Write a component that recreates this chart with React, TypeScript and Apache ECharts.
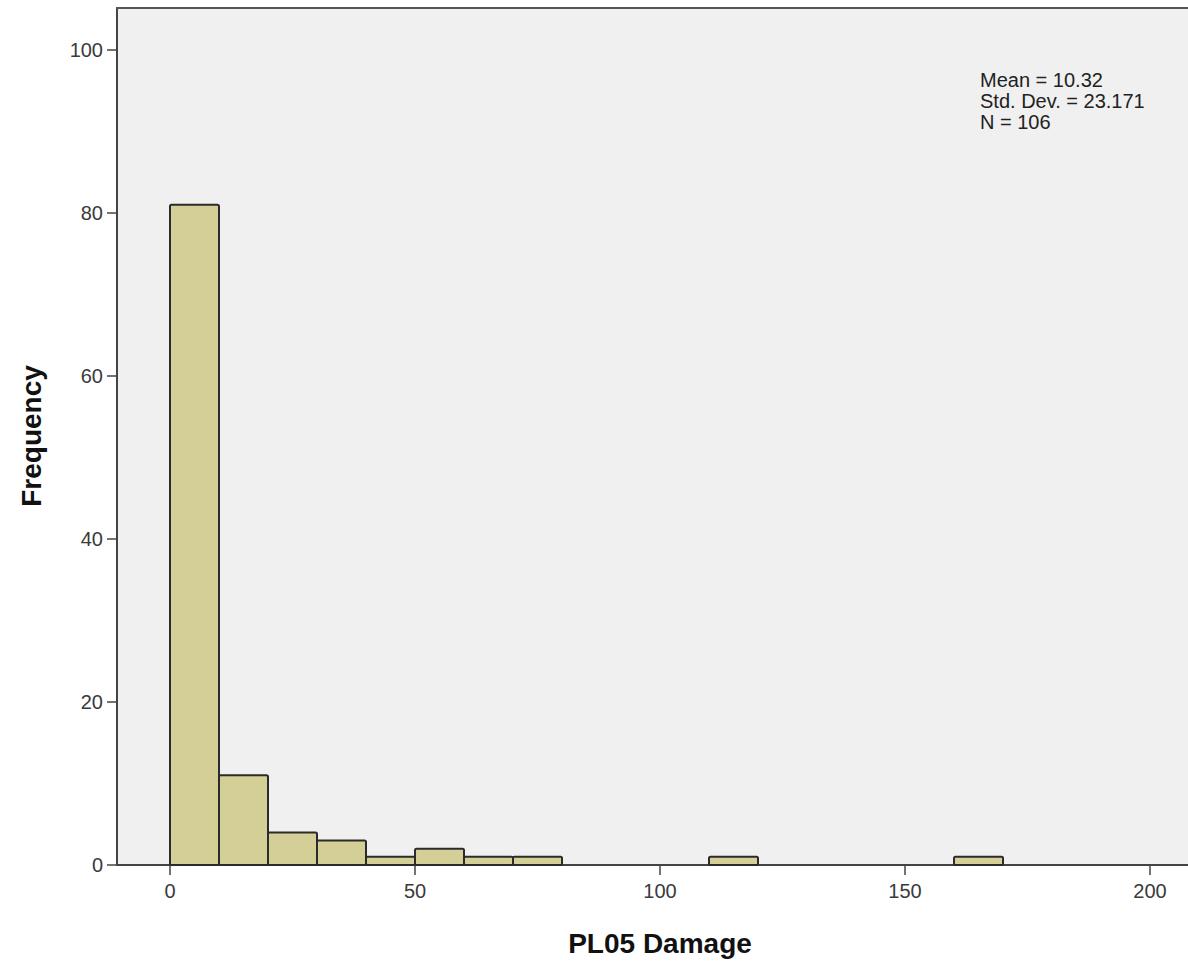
import React, { useEffect, useRef } from "react";
import * as echarts from "echarts";

// Histogram bins (lower edge) and their frequencies
const binStarts = [0, 10, 20, 30, 40, 50, 60, 70, 110, 160];
const binWidth = 10;
const counts = [81, 11, 4, 3, 1, 2, 1, 1, 1, 1];

const xTicks = [0, 50, 100, 150, 200];
const yTicks = [0, 20, 40, 60, 80, 100];

const xTitle = "PL05 Damage";
const yTitle = "Frequency";
const statsLines = ["Mean = 10.32", "Std. Dev. = 23.171", "N = 106"];

const CHART_W = 1200; // chart is a bit wider than the page; the plot's right edge is clipped like in the reference
const CHART_H = 962;

export default function App() {
  const ref = useRef<HTMLDivElement>(null);

  useEffect(() => {
    if (!ref.current) return;
    const chart = echarts.init(ref.current, undefined, { renderer: "svg" });
    const data = binStarts.map((s, i) => [s, s + binWidth, counts[i]]);
    const labelColor = "#3a3a3a";
    const xMin = -10.816;
    const xMax = 210.2;
    chart.setOption({
      animation: false,
      backgroundColor: "#ffffff",
      grid: {
        left: 117,
        top: 8,
        right: 0,
        bottom: 97,
        show: true,
        backgroundColor: "#f0f0f0",
        borderWidth: 0,
        borderColor: "transparent",
        containLabel: false,
      },
      xAxis: [
        {
          type: "value",
          min: xMin,
          max: xMax,
          splitLine: { show: false },
          axisLine: { show: true, onZero: false, lineStyle: { color: "#444444", width: 2 } },
          axisTick: {
            show: true,
            inside: false,
            length: 10,
            customValues: xTicks,
            lineStyle: { color: "#444444", width: 1.5 },
          },
          axisLabel: {
            customValues: xTicks,
            margin: 16,
            fontSize: 20,
            fontFamily: "Liberation Sans, Arial, sans-serif",
            color: labelColor,
          },
        },
        {
          type: "value",
          position: "top",
          min: xMin,
          max: xMax,
          splitLine: { show: false },
          axisLine: { show: true, onZero: false, lineStyle: { color: "#555555", width: 2 } },
          axisTick: { show: false },
          axisLabel: { show: false },
        },
      ],
      yAxis: {
        type: "value",
        min: 0,
        max: 105.15,
        splitLine: { show: false },
        axisLine: { show: true, onZero: false, lineStyle: { color: "#444444", width: 2 } },
        axisTick: {
          show: true,
          inside: false,
          length: 10,
          customValues: yTicks,
          lineStyle: { color: "#444444", width: 1.5 },
        },
        axisLabel: {
          customValues: yTicks,
          margin: 14,
          fontSize: 20,
          fontFamily: "Liberation Sans, Arial, sans-serif",
          color: labelColor,
        },
      },
      series: [
        {
          type: "custom",
          xAxisIndex: 0,
          data,
          encode: { x: [0, 1], y: 2 },
          renderItem: (params: any, api: any) => {
            const start = api.value(0);
            const end = api.value(1);
            const h = api.value(2);
            const p0 = api.coord([start, h]);
            const p1 = api.coord([end, 0]);
            return {
              type: "rect",
              shape: { x: p0[0], y: p0[1], width: p1[0] - p0[0], height: p1[1] - p0[1], r: 1.5 },
              style: { fill: "#d4cf97", stroke: "#2b2b2b", lineWidth: 2 },
            };
          },
        },
      ],
      graphic: [
        {
          type: "text",
          left: 980,
          top: 69,
          style: {
            text: statsLines.join("\n"),
            fontSize: 20,
            lineHeight: 21,
            fontFamily: "Liberation Sans, Arial, sans-serif",
            fill: "#222222",
          },
        },
        {
          type: "text",
          x: 660,
          y: 943,
          style: {
            text: xTitle,
            fontSize: 28,
            fontWeight: "bold",
            fontFamily: "Liberation Sans, Arial, sans-serif",
            fill: "#111111",
            align: "center",
            verticalAlign: "middle",
          },
        },
        {
          type: "text",
          x: 31,
          y: 436,
          rotation: Math.PI / 2,
          style: {
            text: yTitle,
            fontSize: 28,
            fontWeight: "bold",
            fontFamily: "Liberation Sans, Arial, sans-serif",
            fill: "#111111",
            align: "center",
            verticalAlign: "middle",
          },
        },
      ],
    });
    return () => chart.dispose();
  }, []);

  return (
    <div
      style={{
        position: "absolute",
        left: 0,
        top: 0,
        width: 1188,
        height: CHART_H,
        overflow: "hidden",
      }}
    >
      <div ref={ref} style={{ width: CHART_W, height: CHART_H }} />
    </div>
  );
}
